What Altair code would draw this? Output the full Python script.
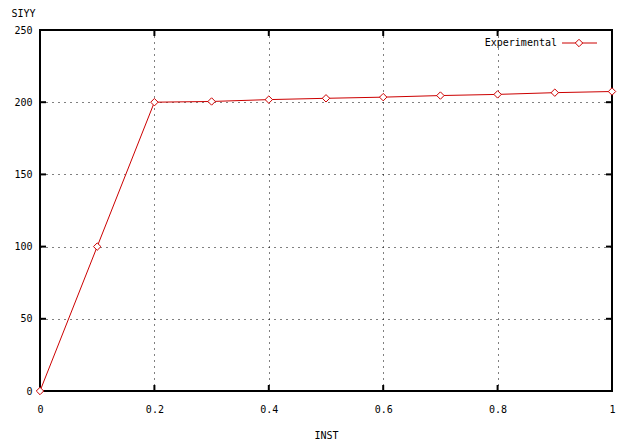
import altair as alt
import pandas as pd

inst = [0.0, 0.1, 0.2, 0.3, 0.4, 0.5, 0.6, 0.7, 0.8, 0.9, 1.0]
siyy = [0.0, 100.0, 200.0, 200.5, 201.8, 202.7, 203.5, 204.6, 205.4, 206.6, 207.4]
series_name = "Experimental"
x_ticks = [0, 0.2, 0.4, 0.6, 0.8, 1.0]
y_ticks = [0, 50, 100, 150, 200, 250]

df = pd.DataFrame({"INST": inst, "SIYY": siyy})
RED = "#cc0000"
FONT = "DejaVu Sans Mono"
FS = 10
W, H = 572, 361
TL = 6

x_enc = alt.X("INST:Q", scale=alt.Scale(domain=[0, 1], nice=False),
              axis=alt.Axis(values=x_ticks, title="INST", format="~g",
                            grid=True, gridColor="black", gridDash=[1, 5], gridOpacity=1,
                            ticks=False, domain=False, labelPadding=13, labelFlush=False,
                            labelFont=FONT, labelFontSize=FS, labelColor="black",
                            titleFont=FONT, titleFontSize=FS, titleFontWeight="normal",
                            titleColor="black", titlePadding=16))
y_enc = alt.Y("SIYY:Q", scale=alt.Scale(domain=[0, 250], nice=False),
              axis=alt.Axis(values=y_ticks, title="SIYY",
                            grid=True, gridColor="black", gridDash=[1, 5], gridOpacity=1,
                            ticks=False, domain=False, labelPadding=8, labelFlush=False,
                            labelFont=FONT, labelFontSize=FS, labelColor="black",
                            titleFont=FONT, titleFontSize=FS, titleFontWeight="normal",
                            titleColor="black", titleAngle=0, titleAlign="left",
                            titleBaseline="middle", titleX=-29, titleY=-17))

line = alt.Chart(df).mark_line(color=RED, strokeWidth=1).encode(x=x_enc, y=y_enc)
pts = alt.Chart(df).mark_point(shape="diamond", color=RED, fill="white", size=55,
                               filled=True, stroke=RED, strokeWidth=1, opacity=1,
                               fillOpacity=1).encode(x="INST:Q", y="SIYY:Q")

xt = pd.DataFrame({"t": x_ticks})
yt = pd.DataFrame({"t": y_ticks})
xtick_b = alt.Chart(xt).mark_rule(color="black", strokeWidth=2).encode(
    x=alt.X("t:Q"), y=alt.value(H), y2=alt.value(H - TL))
xtick_t = alt.Chart(xt).mark_rule(color="black", strokeWidth=2).encode(
    x=alt.X("t:Q"), y=alt.value(0), y2=alt.value(TL))
ytick_l = alt.Chart(yt).mark_rule(color="black", strokeWidth=2).encode(
    y=alt.Y("t:Q"), x=alt.value(0), x2=alt.value(TL))
ytick_r = alt.Chart(yt).mark_rule(color="black", strokeWidth=2).encode(
    y=alt.Y("t:Q"), x=alt.value(W), x2=alt.value(W - TL))

leg_df = pd.DataFrame({"label": [series_name]})
leg_text = alt.Chart(leg_df).mark_text(font=FONT, fontSize=FS, align="right",
                                       baseline="middle", color="black").encode(
    text="label:N", x=alt.value(517), y=alt.value(13))
leg_line = alt.Chart(leg_df).mark_rule(color=RED, strokeWidth=1).encode(
    x=alt.value(522), x2=alt.value(557), y=alt.value(13))
leg_pt = alt.Chart(leg_df).mark_point(shape="diamond", color=RED, fill="white", size=55,
                                      filled=True, stroke=RED, strokeWidth=1, fillOpacity=1,
                                      opacity=1).encode(x=alt.value(539), y=alt.value(13))

chart = alt.layer(line, xtick_b, xtick_t, ytick_l, ytick_r, pts,
                  leg_line, leg_pt, leg_text).properties(
    width=W, height=H,
    autosize=alt.AutoSizeParams(type="none"),
    padding={"left": 32, "top": 22, "right": 10, "bottom": 48},
    background="white",
).configure_view(stroke="black", strokeWidth=2)

chart.save("out.html", embed_options={"renderer": "svg", "actions": False})
